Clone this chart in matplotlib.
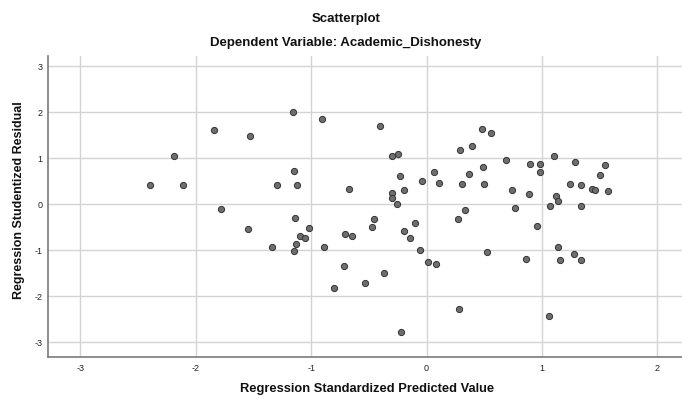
import matplotlib
matplotlib.use("Agg")
import matplotlib.pyplot as plt

# Regression Standardized Predicted Value (x) and Studentized Residual (y)
pred = [-2.40, -2.19, -2.11, -1.84, -1.53, -1.78, -1.55, -1.16, -0.91, -0.40,
        -1.15, -1.30, -1.12, -0.67, -0.30, -0.25, -0.23, -0.20, -0.30, -0.30,
        -0.26, -0.04, 0.06, 0.11, 0.29, 0.39, 0.37, 0.31, 0.33, 0.27,
        -1.14, -1.02, -1.10, -1.05, -1.13, -1.15, -1.34, -0.89, -0.71, -0.65,
        -0.46, -0.47, -0.20, -0.10, -0.14, -0.06, 0.01, 0.08, -0.72, -0.37,
        -0.53, -0.80, 0.28, -0.22, 0.48, 0.56, 0.69, 0.49, 0.50, 0.74,
        0.89, 0.90, 0.98, 0.98, 1.10, 1.29, 1.55, 1.50, 1.24, 1.34,
        1.43, 1.46, 1.57, 1.12, 1.14, 1.07, 1.34, 0.77, 0.96, 0.52,
        0.86, 1.14, 1.28, 1.16, 1.34, 1.06]
resid = [0.43, 1.05, 0.41, 1.62, 1.48, -0.10, -0.53, 2.01, 1.86, 1.70,
         0.72, 0.42, 0.42, 0.33, 1.06, 1.09, 0.62, 0.32, 0.24, 0.14,
         0.01, 0.51, 0.70, 0.46, 1.19, 1.27, 0.65, 0.45, -0.12, -0.33,
         -0.29, -0.51, -0.70, -0.74, -0.86, -1.02, -0.92, -0.92, -0.64, -0.69,
         -0.33, -0.50, -0.58, -0.41, -0.74, -1.00, -1.25, -1.30, -1.35, -1.49,
         -1.72, -1.81, -2.28, -2.78, 1.64, 1.56, 0.97, 0.81, 0.44, 0.30,
         0.23, 0.87, 0.88, 0.70, 1.04, 0.93, 0.86, 0.64, 0.44, 0.42,
         0.33, 0.31, 0.29, 0.19, 0.08, -0.04, -0.04, -0.09, -0.47, -1.03,
         -1.20, -0.93, -1.07, -1.22, -1.22, -2.43]

x_ticks = [-3, -2, -1, 0, 1, 2]
y_ticks = [-3, -2, -1, 0, 1, 2, 3]

title = "Scatterplot"
subtitle = "Dependent Variable: Academic_Dishonesty"
xlabel = "Regression Standardized Predicted Value"
ylabel = "Regression Studentized Residual"

plt.rcParams['font.family'] = ['Liberation Sans', 'DejaVu Sans']

W, H = 682, 399
fig = plt.figure(figsize=(W / 100, H / 100), dpi=100)
ax = fig.add_axes([48 / W, 1 - 357 / H, (682 - 48) / W, (357 - 56) / H])

ax.scatter(pred, resid, s=20, facecolor='#6e6e6e', edgecolor='#333333',
           linewidths=0.7, zorder=3)

ax.set_xlim(-3.281, 2.213)
ax.set_ylim(-3.32, 3.224)
ax.set_xticks(x_ticks)
ax.set_yticks(y_ticks)
ax.set_xticklabels([str(t) for t in x_ticks])
ax.set_yticklabels([str(t) for t in y_ticks])
ax.grid(True, color='#d4d4d4', linewidth=1.0, zorder=0)
ax.set_axisbelow(True)
ax.tick_params(axis='both', length=0, labelsize=6.5, colors='#222222')
ax.tick_params(axis='x', pad=5)
ax.tick_params(axis='y', pad=4)
for s in ['top', 'right']:
    ax.spines[s].set_visible(False)
for s in ['left', 'bottom']:
    ax.spines[s].set_color('#7a7a7a')
    ax.spines[s].set_linewidth(1.2)

fig.text(346 / W, 1 - 19 / H, title, ha='center', va='center',
         fontsize=9.5, fontweight='bold', color='#111111')
fig.text(346 / W, 1 - 43 / H, subtitle, ha='center', va='center',
         fontsize=9.5, fontweight='bold', color='#111111')
fig.text(367 / W, 1 - 389 / H, xlabel, ha='center', va='center',
         fontsize=9.3, fontweight='bold', color='#111111')
fig.text(19 / W, 1 - 200 / H, ylabel, ha='center', va='center',
         rotation=90, fontsize=9.0, fontweight='bold', color='#111111')

fig.savefig("out.png", dpi=100)
